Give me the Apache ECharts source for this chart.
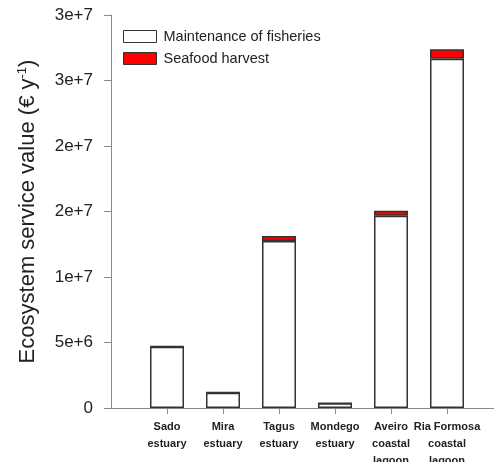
<!DOCTYPE html>
<html>
<head>
<meta charset="utf-8">
<script src="https://cdn.jsdelivr.net/npm/echarts@6/dist/echarts.min.js"></script>
<style>
  html, body { margin: 0; padding: 0; background: #fff; }
  #chart { width: 494px; height: 462px; }
</style>
</head>
<body>
<div id="chart"></div>
<script>
// Sites; blank entries pad the axis on each side of the bars
const sites = ['', 'Sado\nestuary', 'Mira\nestuary', 'Tagus\nestuary', 'Mondego\nestuary',
  'Aveiro\ncoastal\nlagoon', 'Ria Formosa\ncoastal\nlagoon', ''];

// Ecosystem service value (€ per year)
const maintenanceOfFisheries = [null, 4.68e6, 1.17e6, 12.75e6, 0.36e6, 14.68e6, 26.66e6, null];
const seafoodHarvest         = [null, 0.02e6, 0.01e6, 0.38e6, 0.01e6, 0.38e6, 0.72e6, null];

// y-axis tick labels, one per 5e6 step
const yTickLabels = ['0', '5e+6', '1e+7', '2e+7', '2e+7', '3e+7', '3e+7'];
const yStep = 5e6;

const chart = echarts.init(document.getElementById('chart'), null, { renderer: 'canvas' });

const axisGray = '#8a8a8a';
const font = '"Liberation Sans", Arial, sans-serif';

chart.setOption({
  animation: false,
  backgroundColor: '#ffffff',
  textStyle: { fontFamily: font },
  grid: { left: 111, right: -9, top: 15, bottom: 54, containLabel: false, outerBoundsMode: 'none' },
  legend: {
    orient: 'vertical',
    left: 123,
    top: 29,
    padding: 0,
    itemWidth: 33,
    itemHeight: 12,
    itemGap: 7,
    icon: 'rect',
    textStyle: { fontSize: 14.5, color: '#222', fontFamily: font, padding: [0, 0, 0, 2] },
    data: [
      { name: 'Maintenance of fisheries', itemStyle: { color: '#ffffff', borderColor: '#333', borderWidth: 1 } },
      { name: 'Seafood harvest', itemStyle: { color: '#ff0000', borderColor: '#333', borderWidth: 1 } }
    ]
  },
  xAxis: {
    type: 'category',
    data: sites,
    boundaryGap: false,
    axisLine: { lineStyle: { color: axisGray, width: 1 } },
    axisTick: {
      length: 6,
      lineStyle: { color: axisGray },
      interval: (i, v) => v !== ''
    },
    axisLabel: {
      interval: 0,
      margin: 10,
      fontSize: 11,
      fontWeight: 'bold',
      color: '#222',
      lineHeight: 17,
      fontFamily: font
    },
    splitLine: { show: false }
  },
  yAxis: {
    type: 'value',
    min: 0,
    max: 3e7,
    interval: yStep,
    name: '{a|Ecosystem service value (€ y}{sup|-1}{a|)}',
    nameLocation: 'middle',
    nameGap: 71,
    nameRotate: 90,
    nameTextStyle: {
      rich: {
        a: { fontSize: 22, color: '#222', fontFamily: font },
        sup: { fontSize: 13, color: '#222', fontFamily: font, padding: [0, 0, 11, 0] }
      }
    },
    axisLine: { show: true, lineStyle: { color: axisGray, width: 1 } },
    axisTick: { show: true, length: 7, lineStyle: { color: axisGray } },
    axisLabel: {
      margin: 18,
      fontSize: 17,
      color: '#222',
      fontFamily: font,
      formatter: v => yTickLabels[Math.round(v / yStep)]
    },
    splitLine: { show: false }
  },
  series: [
    {
      name: 'Maintenance of fisheries',
      type: 'bar',
      stack: 'value',
      barWidth: 34,
      data: maintenanceOfFisheries,
      itemStyle: { color: '#ffffff', borderColor: '#333', borderWidth: 1.5 }
    },
    {
      name: 'Seafood harvest',
      type: 'bar',
      stack: 'value',
      barWidth: 34,
      data: seafoodHarvest,
      itemStyle: { color: '#ff0000', borderColor: '#333', borderWidth: 1.5 }
    }
  ]
});
</script>
</body>
</html>
